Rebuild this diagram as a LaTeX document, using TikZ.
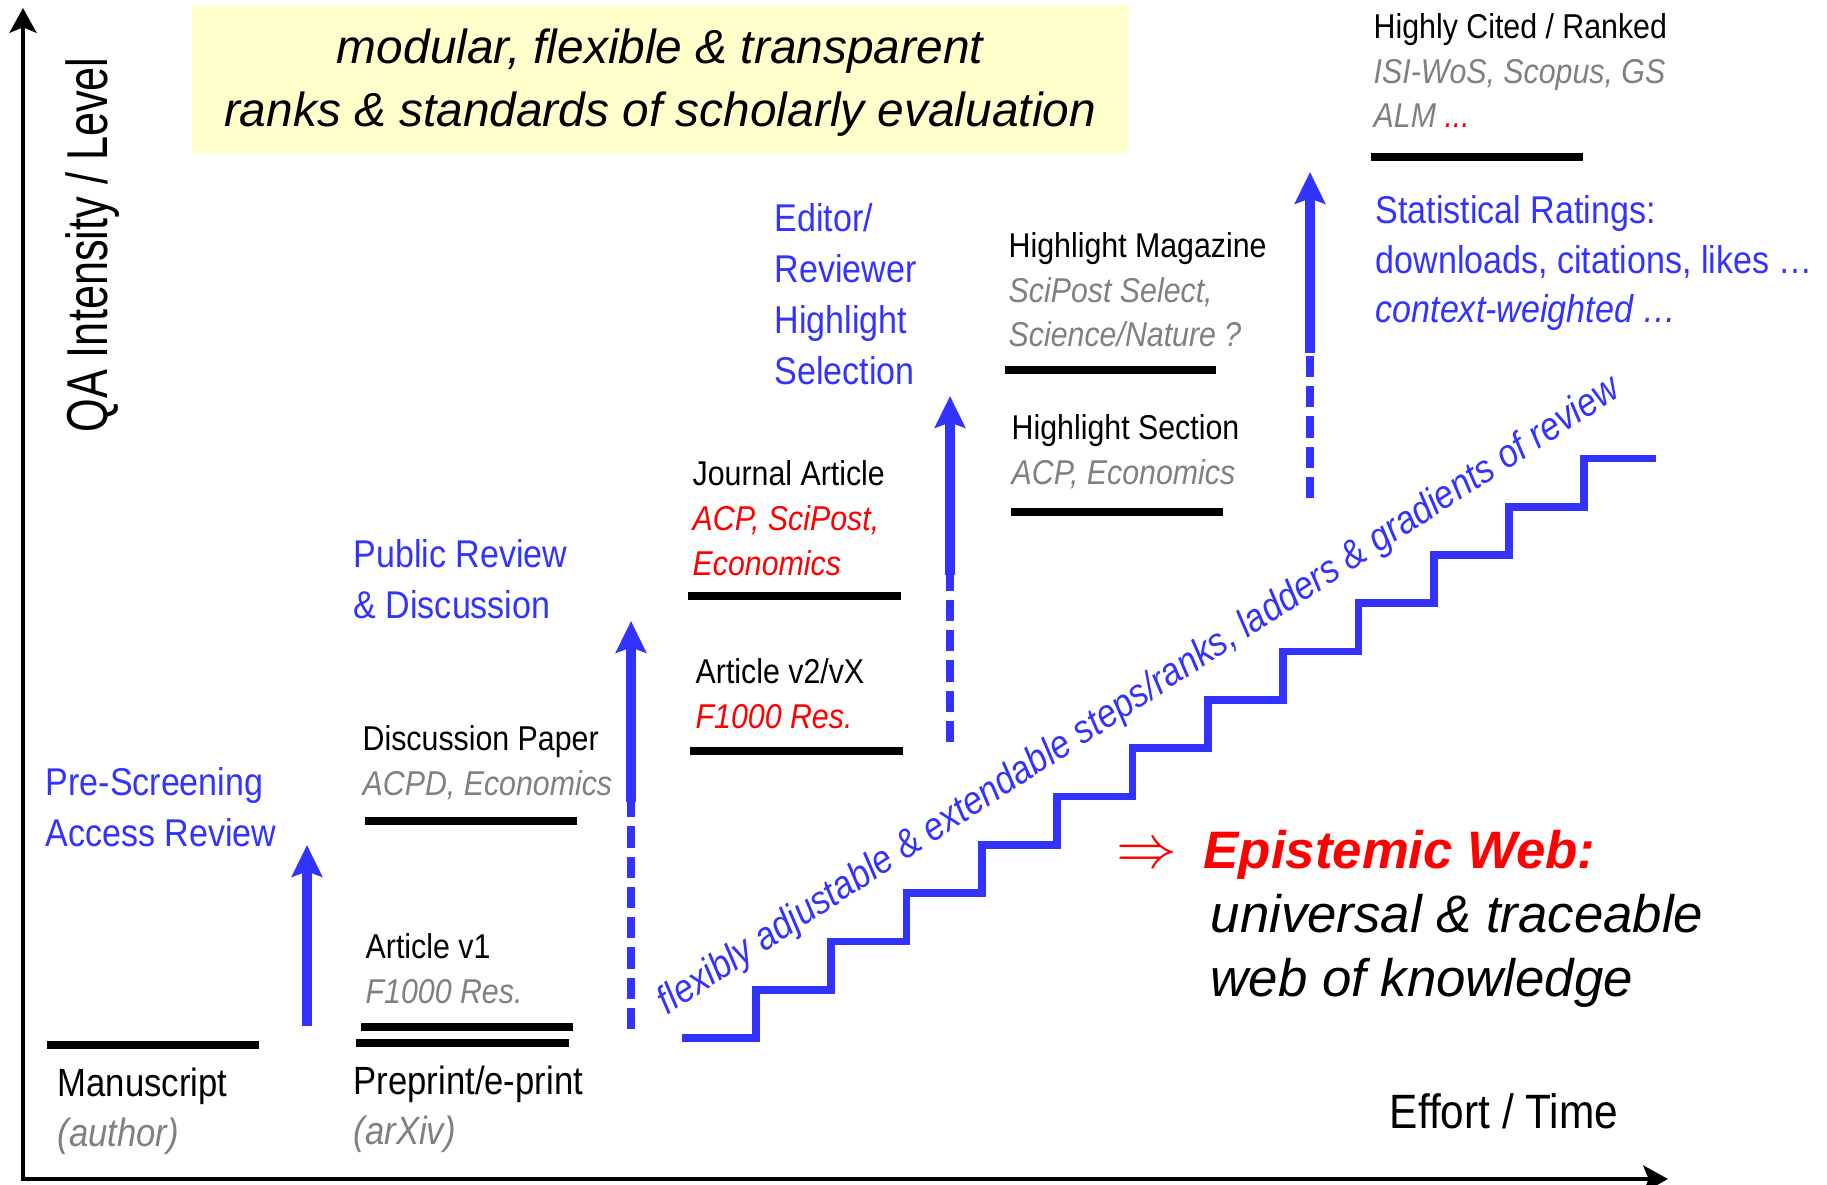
\documentclass[tikz,border=0pt]{standalone}
\usepackage{fontspec}
\setmainfont{Liberation Sans}[FakeStretch=0.88]
\newfontfamily\widefont{Liberation Sans}
\newfontfamily\narrowfont{Liberation Sans}[FakeStretch=0.75]
\usetikzlibrary{arrows.meta}
\definecolor{qablue}{RGB}{51,51,255}
\definecolor{notegray}{RGB}{128,128,128}
\definecolor{boxyellow}{RGB}{255,255,204}
\newcommand{\srcname}[1]{{\color{notegray}\itshape #1}}
\newcommand{\jrnname}[1]{{\color{red}\itshape #1}}

\begin{document}
\begin{tikzpicture}[x=0.01cm,y=-0.01cm]
\tikzset{
  level/.style={line width=2.2pt},
  lbl/.style={anchor=base west,inner sep=0,align=left,font=\fontsize{9.8}{12.7}\selectfont},
  big/.style={lbl,font=\fontsize{11.2}{14.2}\selectfont},
  rev/.style={lbl,text=qablue,font=\fontsize{11}{14.5}\selectfont},
  up/.style={qablue,line width=2.8pt,-{Stealth[length=9pt,width=8.6pt,inset=1.5pt]}},
  updash/.style={qablue,line width=2.2pt,dash pattern=on 6pt off 2.6pt},
  axis/.style={line width=1.4pt,{Stealth[length=7pt,width=7.6pt,inset=1.5pt]}-{Stealth[length=7pt,width=7.6pt,inset=1.5pt]}},
  stairs/.style={qablue,line width=2.2pt}
}
\useasboundingbox (0,0) rectangle (1827,1185);
% axes
\coordinate (origin) at (23,1179);
\coordinate (ytip) at (23,8);
\coordinate (xtip) at (1668,1179);
\draw[axis] (ytip) -- (origin) -- (xtip);
\node[rotate=90,anchor=base,inner sep=0,font=\narrowfont\fontsize{16.4}{18}\selectfont] (qa) at (107,245) {QA Intensity / Level};
\node[anchor=base west,inner sep=0,font=\fontsize{13.7}{16}\selectfont] (effort) at (1389,1128) {Effort / Time};

% headline
\fill[boxyellow] (192,5) rectangle (1128,153);
\node[align=center,inner sep=0,font=\widefont\itshape\fontsize{13.6}{17.9}\selectfont] (goal) at (660,83)
  {modular, flexible \& transparent\\ranks \& standards of scholarly evaluation};

% levels (anchored at the last baseline)
\node[big] (manus) at (57,1146) {Manuscript\\\srcname{(author)}};
\node[big] (preprint) at (353,1144) {Preprint/e-print\\\srcname{(arXiv)}};
\node[lbl] (artone) at (365,1003) {Article v1\\\srcname{F1000 Res.}};
\node[lbl] (discpaper) at (362,795) {Discussion Paper\\\srcname{ACPD, Economics}};
\node[lbl] (journal) at (692,575) {Journal Article\\\jrnname{ACP, SciPost,}\\\jrnname{Economics}};
\node[lbl] (arttwo) at (695,728) {Article v2/vX\\\jrnname{F1000 Res.}};
\node[lbl] (magazine) at (1008,347) {Highlight Magazine\\\srcname{SciPost Select,}\\\srcname{Science/Nature ?}};
\node[lbl] (section) at (1011,484) {Highlight Section\\\srcname{ACP, Economics}};
\node[lbl] (cited) at (1373,128) {Highly Cited / Ranked\\\srcname{ISI-WoS, Scopus, GS}\\\srcname{ALM \textcolor{red}{...}}};

\coordinate (msL) at (47,1045);   \coordinate (msR) at (259,1045);
\coordinate (ppL) at (356,1043);  \coordinate (ppR) at (569,1043);
\coordinate (avL) at (361,1027);  \coordinate (avR) at (573,1027);
\coordinate (dpL) at (365,821);   \coordinate (dpR) at (577,821);
\coordinate (jaL) at (688,596);   \coordinate (jaR) at (901,596);
\coordinate (a2L) at (690,751);   \coordinate (a2R) at (903,751);
\coordinate (hmL) at (1005,370);  \coordinate (hmR) at (1216,370);
\coordinate (hsL) at (1011,512);  \coordinate (hsR) at (1223,512);
\coordinate (hcL) at (1371,157);  \coordinate (hcR) at (1583,157);
\foreach \a/\b in {msL/msR,ppL/ppR,avL/avR,dpL/dpR,jaL/jaR,a2L/a2R,hmL/hmR,hsL/hsR,hcL/hcR}
  \draw[level] (\a) -- (\b);

% review steps
\node[rev] (prescreen) at (45,846) {Pre-Screening\\Access Review};
\node[rev] (pubrev) at (353,618) {Public Review\\\& Discussion};
\node[rev] (editor) at (774,384) {Editor/\\Reviewer\\Highlight\\Selection};
\node[rev,font=\fontsize{11}{14.2}\selectfont] (stats) at (1375,323)
  {Statistical Ratings:\\downloads, citations, likes \dots\\\textit{context-weighted \dots}};

\coordinate (pre0) at (307,1026); \coordinate (pre1) at (307,845);
\coordinate (pub0) at (631,1029); \coordinate (pubm) at (631,802); \coordinate (pub1) at (631,621);
\coordinate (edi0) at (950,742);  \coordinate (edim) at (950,575); \coordinate (edi1) at (950,396);
\coordinate (sta0) at (1310,498); \coordinate (stam) at (1310,353); \coordinate (sta1) at (1310,172);
\draw[up] (pre0) -- (pre1);
\draw[updash] (pub0) -- (pubm);  \draw[up] (pubm) -- (pub1);
\draw[updash] (edi0) -- (edim);  \draw[up] (edim) -- (edi1);
\draw[updash] (sta0) -- (stam);  \draw[up] (stam) -- (sta1);

% staircase
\coordinate (stair0) at (682,1038);
\draw[stairs] (stair0) -- ++(74,0)
  \foreach \i in {1,...,11} { -- ++(0,-48.3) -- ++(75.3,0) } -- ++(0,-48.3) -- ++(72,0);
\node[rotate=33,anchor=base,inner sep=0,text=qablue,font=\itshape\fontsize{11.2}{13}\selectfont] (ladder) at (1145,705)
  {flexibly adjustable \& extendable steps/ranks, ladders \& gradients of review};

% epistemic web
\node[lbl,font=\widefont\fontsize{15}{18.2}\selectfont] (epi) at (1203,996)
  {\textcolor{red}{\bfseries\itshape Epistemic Web:}\\\hspace*{2pt}\itshape universal \& traceable\\\hspace*{2pt}\itshape web of knowledge};
\node[text=red,inner sep=0,font=\fontsize{18}{20}\selectfont] (implies) at (1147,856) {$\Rightarrow$};
\end{tikzpicture}
\end{document}
